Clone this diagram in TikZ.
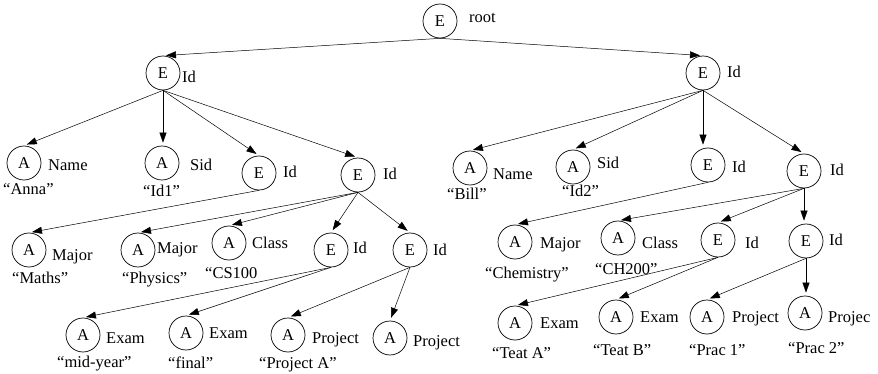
\documentclass[tikz,border=0pt]{standalone}
\usepackage{fontspec}
\setmainfont{Liberation Serif}
\usetikzlibrary{arrows.meta}
\begin{document}
\begin{tikzpicture}[x=1pt,y=-1pt,
  txt/.style={font=\fontsize{16.5}{18}\selectfont},
  ent/.style={circle,draw,line width=0.7pt,minimum size=34pt,inner sep=0pt,txt},
  lbl/.style={anchor=base west,inner sep=0pt,txt},
  link/.style={line width=0.5pt,-{Triangle[length=10pt,width=7pt]},shorten >=3pt}]
\useasboundingbox (0,0) rectangle (878,374);

% root
\node[ent] (root) at (440,21) {E};
\node[lbl] (rootl) at (469,23) {root};

% first level
\node[ent] (L) at (163,73) {E};  \node[lbl] (Ll) at (182,83) {Id};
\node[ent] (R) at (703,73) {E};  \node[lbl] (Rl) at (727,78) {Id};

% children of the left element
\node[ent] (L1) at (24,163) {A};  \node[lbl] (L1l) at (48,171) {Name};
\node[lbl] (L1v) at (3,195) {“Anna”};
\node[ent] (L2) at (162,163) {A}; \node[lbl] (L2l) at (190,171) {Sid};
\node[lbl] (L2v) at (143,197) {“Id1”};
\node[ent] (L3) at (259,173) {E}; \node[lbl] (L3l) at (283,178) {Id};
\node[ent] (L4) at (358,175) {E}; \node[lbl] (L4l) at (383,180) {Id};

\node[ent] (L31) at (29,250) {A};  \node[lbl] (L31l) at (52,260) {Major};
\node[lbl] (L31v) at (12,283) {“Maths”};
\node[ent] (L41) at (138,250) {A}; \node[lbl] (L41l) at (157,253) {Major};
\node[lbl] (L41v) at (122,283) {“Physics”};
\node[ent] (L42) at (229,243) {A}; \node[lbl] (L42l) at (252,248) {Class};
\node[lbl] (L42v) at (205,278) {“CS100};
\node[ent] (L43) at (331,250) {E}; \node[lbl] (L43l) at (353,253) {Id};
\node[ent] (L44) at (410,250) {E}; \node[lbl] (L44l) at (433,255) {Id};

\node[ent] (L431) at (83,335) {A};  \node[lbl] (L431l) at (106,343) {Exam};
\node[lbl] (L431v) at (57,367) {“mid-year”};
\node[ent] (L432) at (186,333) {A}; \node[lbl] (L432l) at (209,338) {Exam};
\node[lbl] (L432v) at (168,368) {“final”};
\node[ent] (L441) at (288,335) {A}; \node[lbl] (L441l) at (312,343) {Project};
\node[lbl] (L441v) at (259,368) {“Project A”};
\node[ent] (L442) at (390,338) {A}; \node[lbl] (L442l) at (413,346) {Project};

% children of the right element
\node[ent] (R1) at (470,168) {A}; \node[lbl] (R1l) at (493,180) {Name};
\node[lbl] (R1v) at (447,200) {“Bill”};
\node[ent] (R2) at (573,167) {A}; \node[lbl] (R2l) at (597,169) {Sid};
\node[lbl] (R2v) at (562,197) {“Id2”};
\node[ent] (R3) at (708,165) {E}; \node[lbl] (R3l) at (732,173) {Id};
\node[ent] (R4) at (804,171) {E}; \node[lbl] (R4l) at (830,176) {Id};

\node[ent] (R31) at (515,242) {A}; \node[lbl] (R31l) at (540,248) {Major};
\node[lbl] (R31v) at (485,278) {“Chemistry”};
\node[ent] (R41) at (618,238) {A}; \node[lbl] (R41l) at (642,248) {Class};
\node[lbl] (R41v) at (595,274) {“CH200”};
\node[ent] (R42) at (718,240) {E}; \node[lbl] (R42l) at (745,248) {Id};
\node[ent] (R43) at (806,241) {E}; \node[lbl] (R43l) at (829,246) {Id};

\node[ent] (R421) at (515,323) {A}; \node[lbl] (R421l) at (540,328) {Exam};
\node[lbl] (R421v) at (492,358) {“Teat A”};
\node[ent] (R422) at (616,317) {A}; \node[lbl] (R422l) at (640,322) {Exam};
\node[lbl] (R422v) at (593,355) {“Teat B”};
\node[ent] (R431) at (707,317) {A}; \node[lbl] (R431l) at (732,322) {Project};
\node[lbl] (R431v) at (689,355) {“Prac 1”};
\node[ent] (R432) at (805,313) {A}; \node[lbl] (R432l) at (828,322) {Projec};
\node[lbl] (R432v) at (788,353) {“Prac 2”};

% connectors
\draw[link] (root.south) -- (L.north);
\draw[link] (root.south) -- (R.north);

\draw[link] (L.south) -- (L1.north);
\draw[link] (L.south) -- (L.south |- L2.north);
\draw[link] (L.south) -- (L3.north);
\draw[link] (L.south) -- (L4.north);
\draw[link] (L3.south) -- (L31.north);
\draw[link] (L4.south) -- (L41.north);
\draw[link] (L4.south) -- (L42.north);
\draw[link] (L4.south) -- (L43.north);
\draw[link] (L4.south) -- (L44.north);
\draw[link] (L43.south) -- (L431.north);
\draw[link] (L43.south) -- (L432.north);
\draw[link] (L44.south) -- (L441.north);
\draw[link] (L44.south) -- (L442.north);

\draw[link] (R.south) -- (R1.north);
\draw[link] (R.south) -- (R2.north);
\draw[link] (R.south) -- (R.south |- R3.north);
\draw[link] (R.south) -- (R4.north);
\draw[link] (R3.south) -- (R31.north);
\draw[link] (R4.south) -- (R41.north);
\draw[link] (R4.south) -- (R42.north);
\draw[link] (R4.south) -- (R4.south |- R43.north);
\draw[link] (R42.south) -- (R421.north);
\draw[link] (R42.south) -- (R422.north);
\draw[link] (R43.south) -- (R431.north);
\draw[link] (R43.south) -- (R43.south |- R432.north);
\end{tikzpicture}
\end{document}
